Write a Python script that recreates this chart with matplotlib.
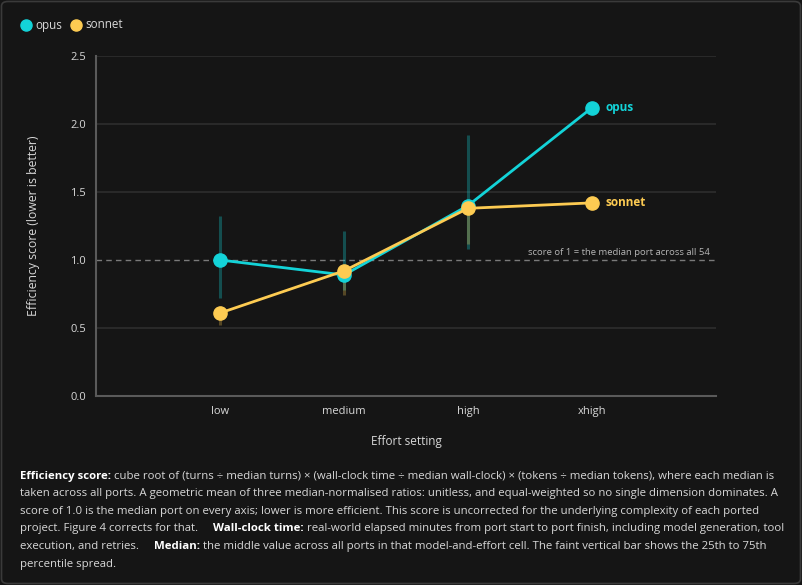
import matplotlib
matplotlib.use("Agg")
import matplotlib.pyplot as plt
from matplotlib.patches import FancyBboxPatch
from matplotlib.lines import Line2D
import numpy as np

# ---- data ----
efforts = ["low", "medium", "high", "xhigh"]
opus_median = [1.00, 0.89, 1.40, 2.12]
opus_q1 = [0.72, 0.78, 1.08, np.nan]
opus_q3 = [1.32, 1.21, 1.92, np.nan]
sonnet_median = [0.61, 0.92, 1.38, 1.42]
sonnet_q1 = [0.52, 0.74, 1.12, np.nan]
sonnet_q3 = [0.66, 0.96, 1.42, np.nan]
yticks = [0.0, 0.5, 1.0, 1.5, 2.0, 2.5]

FONT = ["Open Sans", "DejaVu Sans"]
plt.rcParams["font.family"] = FONT

BG = "#151515"
CYAN = "#13d3d8"
YELLOW = "#fdcb52"
TXT = "#d8d8d8"

W, H = 802, 585
fig = plt.figure(figsize=(W / 100, H / 100), dpi=100, facecolor=BG)
border = FancyBboxPatch((1.5 / W, 1.5 / H), 1 - 3 / W, 1 - 3 / H,
                        boxstyle="round,pad=0,rounding_size=0.008",
                        transform=fig.transFigure, facecolor=BG,
                        edgecolor="#3a3a3a", linewidth=1.2, zorder=-10)
fig.add_artist(border)

ax = fig.add_axes([96 / W, 1 - 396 / H, 620 / W, 340 / H])
ax.set_facecolor(BG)
x = np.arange(len(efforts))
ax.set_xlim(-1, 4)
ax.set_ylim(0, 2.5)

# gridlines
for yv in yticks:
    if yv == 1.0:
        ax.axhline(yv, color="#7a7a7a", lw=1.0, ls=(0, (4, 3)), zorder=1)
    elif yv > 0:
        ax.axhline(yv, color="#2e2e2e", lw=1.2, zorder=0.5)

for s in ["top", "right"]:
    ax.spines[s].set_visible(False)
for s in ["left", "bottom"]:
    ax.spines[s].set_color("#5a5a5a")
    ax.spines[s].set_linewidth(1.5)

ax.set_yticks(yticks)
ax.set_yticklabels([f"{v:.1f}" for v in yticks])
ax.set_xticks(x)
ax.set_xticklabels(efforts)
ax.tick_params(axis="both", length=0, colors=TXT, labelsize=8)
ax.tick_params(axis="y", pad=7)
ax.tick_params(axis="x", pad=7)

ax.set_xlabel("Effort setting", color=TXT, fontsize=8.5, labelpad=13)
ax.set_ylabel("Efficiency score (lower is better)", color=TXT, fontsize=8.8)
ax.yaxis.set_label_coords((40 - 96) / 620, 0.5)

# IQR bars
for i in x:
    if not np.isnan(opus_q1[i]):
        ax.plot([i, i], [opus_q1[i], opus_q3[i]], color=CYAN, alpha=0.3, lw=2.2,
                solid_capstyle="butt", zorder=2)
    if not np.isnan(sonnet_q1[i]):
        ax.plot([i, i], [sonnet_q1[i], sonnet_q3[i]], color=YELLOW, alpha=0.28, lw=2.2,
                solid_capstyle="butt", zorder=2)

ax.plot(x, opus_median, color=CYAN, lw=2.0, marker="o", ms=9.5, zorder=4)
ax.plot(x, sonnet_median, color=YELLOW, lw=2.0, marker="o", ms=9.5, zorder=5)

ax.annotate("opus", (x[-1], opus_median[-1]), xytext=(10, 0), textcoords="offset points",
            color=CYAN, fontsize=8.5, fontweight="bold", va="center", ha="left")
ax.annotate("sonnet", (x[-1], sonnet_median[-1]), xytext=(10, 0), textcoords="offset points",
            color=YELLOW, fontsize=8.5, fontweight="bold", va="center", ha="left")

ax.text(3.95, 1.0 + 0.02, "score of 1 = the median port across all 54", color="#b5b5b5",
        fontsize=6.8, ha="right", va="bottom", zorder=3)

# legend
for name, col, px in [("opus", CYAN, 26), ("sonnet", YELLOW, 76)]:
    fig.add_artist(Line2D([px / W], [1 - 25 / H], marker="o", ms=8, color=col,
                          transform=fig.transFigure, linestyle="none"))
    fig.text((px + 9) / W, 1 - 25 / H, name, color=TXT, fontsize=8.4, va="center", ha="left")

# footnote with mixed bold segments
gap = "     "
lines = [
    [("Efficiency score:", True), (" cube root of (turns \u00f7 median turns) \u00d7 (wall-clock time \u00f7 median wall-clock) \u00d7 (tokens \u00f7 median tokens), where each median is", False)],
    [("taken across all ports. A geometric mean of three median-normalised ratios: unitless, and equal-weighted so no single dimension dominates. A", False)],
    [("score of 1.0 is the median port on every axis; lower is more efficient. This score is uncorrected for the underlying complexity of each ported", False)],
    [("project. Figure 4 corrects for that." + gap, False), ("Wall-clock time:", True), (" real-world elapsed minutes from port start to port finish, including model generation, tool", False)],
    [("execution, and retries." + gap, False), ("Median:", True), (" the middle value across all ports in that model-and-effort cell. The faint vertical bar shows the 25th to 75th", False)],
    [("percentile spread.", False)],
]

renderer = fig.canvas.get_renderer()
fs = 8.6
target = 748
def line_width(segs, size):
    tot = 0
    for t, b in segs:
        tt = fig.text(0, 0, t, fontsize=size, fontweight="bold" if b else "normal")
        tot += tt.get_window_extent(renderer).width
        tt.remove()
    return tot
fs = fs * target / line_width(lines[0], fs)

y0 = 476
dy = 17.6
for li, segs in enumerate(lines):
    xpix = 20
    ypix = y0 + li * dy
    for t, b in segs:
        tt = fig.text(xpix / W, 1 - ypix / H, t, fontsize=fs,
                      fontweight="bold" if b else "normal",
                      color="#ffffff" if b else TXT, va="center", ha="left")
        xpix += tt.get_window_extent(renderer).width

fig.savefig("out.png", dpi=100, facecolor=BG)
